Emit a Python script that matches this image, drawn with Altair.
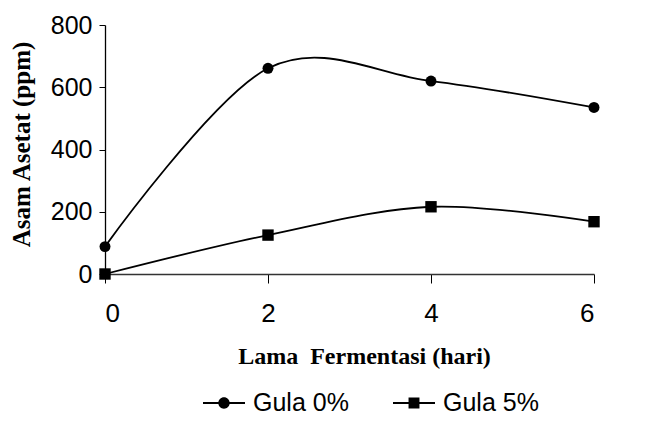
import altair as alt
import pandas as pd

days = [0, 2, 4, 6]
gula0 = [88, 661, 620, 535]
gula5 = [0, 125, 216, 168]
series_names = ["Gula 0%", "Gula 5%"]
x_ticks = [0, 2, 4, 6]
y_ticks = [0, 200, 400, 600, 800]

rows = []
for name, vals in zip(series_names, [gula0, gula5]):
    for d, v in zip(days, vals):
        rows.append({"hari": d, "asam": v, "seri": name})
df = pd.DataFrame(rows)

sans = "Liberation Sans"
serif = "Liberation Serif"

x = alt.X(
    "hari:Q",
    scale=alt.Scale(domain=[0, 6], nice=False, zero=False),
    axis=alt.Axis(
        values=x_ticks, title="Lama\u00a0 Fermentasi (hari)", grid=False,
        labelFont=sans, labelFontSize=26, labelColor="black", labelPadding=17,
        tickSize=9, tickColor="black", domainColor="#333333", domainWidth=1.3,
        titleFont=serif, titleFontWeight="bold", titleFontSize=24, titleColor="black",
        titleY=89, titleX=259, titleBaseline="alphabetic",
    ),
)
y = alt.Y(
    "asam:Q",
    scale=alt.Scale(domain=[0, 800], nice=False),
    axis=alt.Axis(
        values=y_ticks, title="Asam Asetat (ppm)", grid=False,
        labelFont=sans, labelFontSize=25, labelColor="black", labelPadding=7,
        tickSize=6, tickColor="black", domainColor="black", domainWidth=1.3,
        titleFont=serif, titleFontWeight="bold", titleFontSize=25, titleColor="black",
        titleX=-76, titleY=119, titleBaseline="alphabetic",
    ),
)

base = alt.Chart(df)

lines = base.mark_line(color="black", strokeWidth=1.8, interpolate="cardinal").encode(
    x=x, y=y, detail="seri:N"
)

points = base.mark_point(filled=True, color="black", opacity=1).encode(
    x=x, y=y,
    shape=alt.Shape("seri:N", scale=alt.Scale(domain=series_names, range=["circle", "square"]), legend=None),
    size=alt.Size("seri:N", scale=alt.Scale(domain=series_names, range=[120, 130]), legend=None),
)

bar = "M-1,-0.042L1,-0.042L1,0.042L-1,0.042Z"
circle_path = bar + "M0.27,0A0.27,0.27,0,1,1,-0.27,0A0.27,0.27,0,1,1,0.27,0Z"
square_path = bar + "M-0.26,-0.26L0.26,-0.26L0.26,0.26L-0.26,0.26Z"

legend_layer = base.mark_point(filled=True, color="black", opacity=0).encode(
    x=x, y=y,
    shape=alt.Shape(
        "seri:N",
        scale=alt.Scale(domain=series_names, range=[circle_path, square_path]),
        legend=alt.Legend(
            title=None, orient="none", direction="horizontal",
            legendX=98, legendY=357, padding=0,
            symbolSize=1764, symbolOpacity=1, symbolFillColor="black",
            symbolStrokeColor="black", symbolStrokeWidth=0,
            labelFont=sans, labelFontSize=25, labelColor="black",
            labelOffset=8, columnPadding=44,
        ),
    ),
)

chart = (
    alt.layer(lines, points, legend_layer)
    .resolve_scale(shape="independent", size="independent")
    .properties(
        width=489, height=249,
        autosize=alt.AutoSizeParams(type="none"),
        padding={"left": 97, "top": 17, "right": 40, "bottom": 141},
    )
    .configure_view(stroke=None)
)

chart.save("out.html", embed_options={"renderer": "svg", "actions": False})
